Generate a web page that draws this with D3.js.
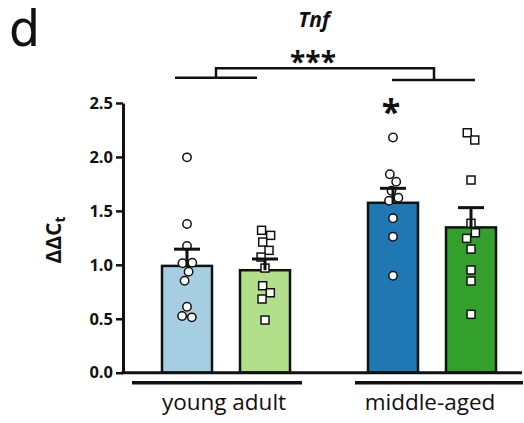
<!DOCTYPE html>
<meta charset="utf-8">
<script src="https://d3js.org/d3.v7.min.js"></script>
<style>
    body { margin: 0; background: #fff; }
    text { font-family: "Open Sans", sans-serif; fill: #111; }
</style>
<body>
<div id="chart"></div>
<script>
    // groups on the x axis and the two series inside each group
    var groups = ["young adult", "middle-aged"]
    var series = ["circles", "squares"]

    // bar heights (mean) and SEM, one per group x series
    var means = [[0.99, 0.95], [1.575, 1.347]]
    var sems = [[0.155, 0.104], [0.134, 0.183]]

    // individual points
    var points = [
        [[1.996, 1.378, 1.174, 1.014, 1.02, 0.936, 0.853, 0.612, 0.525, 0.513],
         [1.32, 1.273, 1.211, 1.134, 1.072, 0.97, 0.806, 0.741, 0.683, 0.488]],
        [[2.18, 1.839, 1.77, 1.687, 1.622, 1.594, 1.431, 1.26, 0.899],
         [2.224, 2.157, 1.786, 1.385, 1.297, 1.245, 1.146, 0.952, 0.85, 0.541]]
    ]

    var yTicks = [0, 0.5, 1.0, 1.5, 2.0, 2.5]
    var colors = [["#a6cee3", "#b2df8a"], ["#1f78b4", "#33a02c"]]

    var width = 524
    var height = 423

    var svg = d3.select("#chart")
        .append("svg")
        .attr("width", width)
        .attr("height", height)

    // scales
    var y = d3.scaleLinear()
        .domain([0, 2.5])
        .range([372.7, 103])

    var xGroup = d3.scalePoint()
        .domain(groups)
        .range([226, 432])

    var xSub = d3.scaleBand()
        .domain(series)
        .range([-64, 64])
        .paddingInner(0.359)

    function barCenter(g, s) {
        return xGroup(groups[g]) + xSub(series[s]) + xSub.bandwidth() / 2
    }

    // y axis
    var yAxis = svg.append("g")
        .attr("transform", "translate(123,0)")
        .call(d3.axisLeft(y)
            .tickValues(yTicks)
            .tickFormat(d3.format(".1f"))
            .tickSize(7)
            .tickSizeOuter(0)
            .tickPadding(3))
    yAxis.select(".domain").attr("stroke", "#111").attr("stroke-width", 3)
    yAxis.selectAll(".tick line").attr("stroke", "#111").attr("stroke-width", 2.5)
    yAxis.selectAll(".tick text")
        .style("font-family", "'Open Sans', sans-serif")
        .style("font-size", "16.5px")
        .style("font-weight", "bold")
        .attr("fill", "#111")

    // y label
    var ylab = svg.append("text")
        .attr("transform", "translate(61,240) rotate(-90)")
        .attr("text-anchor", "middle")
        .style("font-size", "21px")
        .style("font-weight", "bold")
    ylab.append("tspan").text("ΔΔC")
    ylab.append("tspan").attr("baseline-shift", "-30%").style("font-size", "14px").text("t")

    // bars
    var flat = []
    groups.forEach(function (g, gi) {
        series.forEach(function (s, si) {
            flat.push({ g: gi, s: si, mean: means[gi][si], sem: sems[gi][si], pts: points[gi][si] })
        })
    })

    svg.append("g").selectAll("rect")
        .data(flat)
        .enter()
        .append("rect")
        .attr("x", function (d) { return xGroup(groups[d.g]) + xSub(series[d.s]) })
        .attr("width", xSub.bandwidth())
        .attr("y", function (d) { return y(d.mean) })
        .attr("height", function (d) { return y(0) - y(d.mean) })
        .attr("fill", function (d) { return colors[d.g][d.s] })
        .attr("stroke", "#111")
        .attr("stroke-width", 2.5)

    // baseline
    svg.append("line")
        .attr("x1", 121.5).attr("x2", 522)
        .attr("y1", y(0)).attr("y2", y(0))
        .attr("stroke", "#111").attr("stroke-width", 3)

    // points, spread sideways with a small force layout
    flat.forEach(function (d) {
        var cx = barCenter(d.g, d.s)
        var nodes = d.pts.map(function (v) { return { v: v, x: cx, fy: y(v), y: y(v) } })
        var sim = d3.forceSimulation(nodes)
            .force("x", d3.forceX(cx).strength(0.08))
            .force("collide", d3.forceCollide(d.s == 0 ? 4.9 : 5.2).iterations(3))
            .stop()
        for (var i = 0; i < 300; i++) sim.tick()
        d.nodes = nodes
    })

    var ptsG = svg.append("g")
    flat.forEach(function (d) {
        if (d.s == 0) {
            ptsG.selectAll(null)
                .data(d.nodes)
                .enter()
                .append("circle")
                .attr("cx", function (n) { return n.x })
                .attr("cy", function (n) { return n.fy })
                .attr("r", 4.2)
                .attr("fill", "#fff")
                .attr("stroke", "#111")
                .attr("stroke-width", 1.5)
        } else {
            ptsG.selectAll(null)
                .data(d.nodes)
                .enter()
                .append("rect")
                .attr("x", function (n) { return n.x - 4 })
                .attr("y", function (n) { return n.fy - 4 })
                .attr("width", 8)
                .attr("height", 8)
                .attr("fill", "#fff")
                .attr("stroke", "#111")
                .attr("stroke-width", 1.5)
        }
    })

    // error bars (SEM, upward only)
    var err = svg.append("g").attr("stroke", "#111").attr("stroke-width", 3)
    flat.forEach(function (d) {
        var cx = barCenter(d.g, d.s)
        err.append("line")
            .attr("x1", cx).attr("x2", cx)
            .attr("y1", y(d.mean)).attr("y2", y(d.mean + d.sem))
        err.append("line")
            .attr("x1", cx - 13).attr("x2", cx + 13)
            .attr("y1", y(d.mean + d.sem)).attr("y2", y(d.mean + d.sem))
    })

    // group underlines and labels
    var under = [[-94, 76], [-77, 91]]
    groups.forEach(function (g, gi) {
        svg.append("line")
            .attr("x1", xGroup(g) + under[gi][0]).attr("x2", xGroup(g) + under[gi][1])
            .attr("y1", 382.7).attr("y2", 382.7)
            .attr("stroke", "#111").attr("stroke-width", 3.5)
        svg.append("text")
            .attr("x", xGroup(g) - 2)
            .attr("y", 410)
            .attr("text-anchor", "middle")
            .style("font-size", "22.5px")
            .text(g)
    })

    // comparison bracket between the groups
    var br = svg.append("g").attr("stroke", "#111").attr("stroke-width", 2.5).attr("fill", "none")
    var g1 = xGroup(groups[0]), g2 = xGroup(groups[1])
    br.append("line").attr("x1", g1 - 51).attr("x2", g1 + 31).attr("y1", y(2.734)).attr("y2", y(2.734))
    br.append("line").attr("x1", g2 - 40).attr("x2", g2 + 43).attr("y1", y(2.713)).attr("y2", y(2.713))
    br.append("path")
        .attr("d", d3.line()([[g1 - 10, y(2.734)], [g1 - 10, y(2.821)], [g2 + 2, y(2.821)], [g2 + 2, y(2.713)]]))

    svg.append("text")
        .attr("x", (g1 + g2) / 2 - 16)
        .attr("y", 72)
        .attr("text-anchor", "middle")
        .style("font-size", "28px")
        .style("font-weight", "bold")
        .text("***")

    // significance over middle-aged circles
    svg.append("text")
        .attr("x", barCenter(1, 0) - 2)
        .attr("y", 124)
        .attr("text-anchor", "middle")
        .style("font-size", "34px")
        .style("font-weight", "bold")
        .text("*")

    // title and panel letter
    svg.append("text")
        .attr("x", 314)
        .attr("y", 27)
        .attr("text-anchor", "middle")
        .style("font-size", "21px")
        .style("font-weight", "bold")
        .style("font-style", "italic")
        .text("Tnf")

    svg.append("text")
        .attr("x", 9)
        .attr("y", 46)
        .style("font-family", "'DejaVu Sans', sans-serif")
        .style("font-size", "49px")
        .text("d")
</script>
</body>
